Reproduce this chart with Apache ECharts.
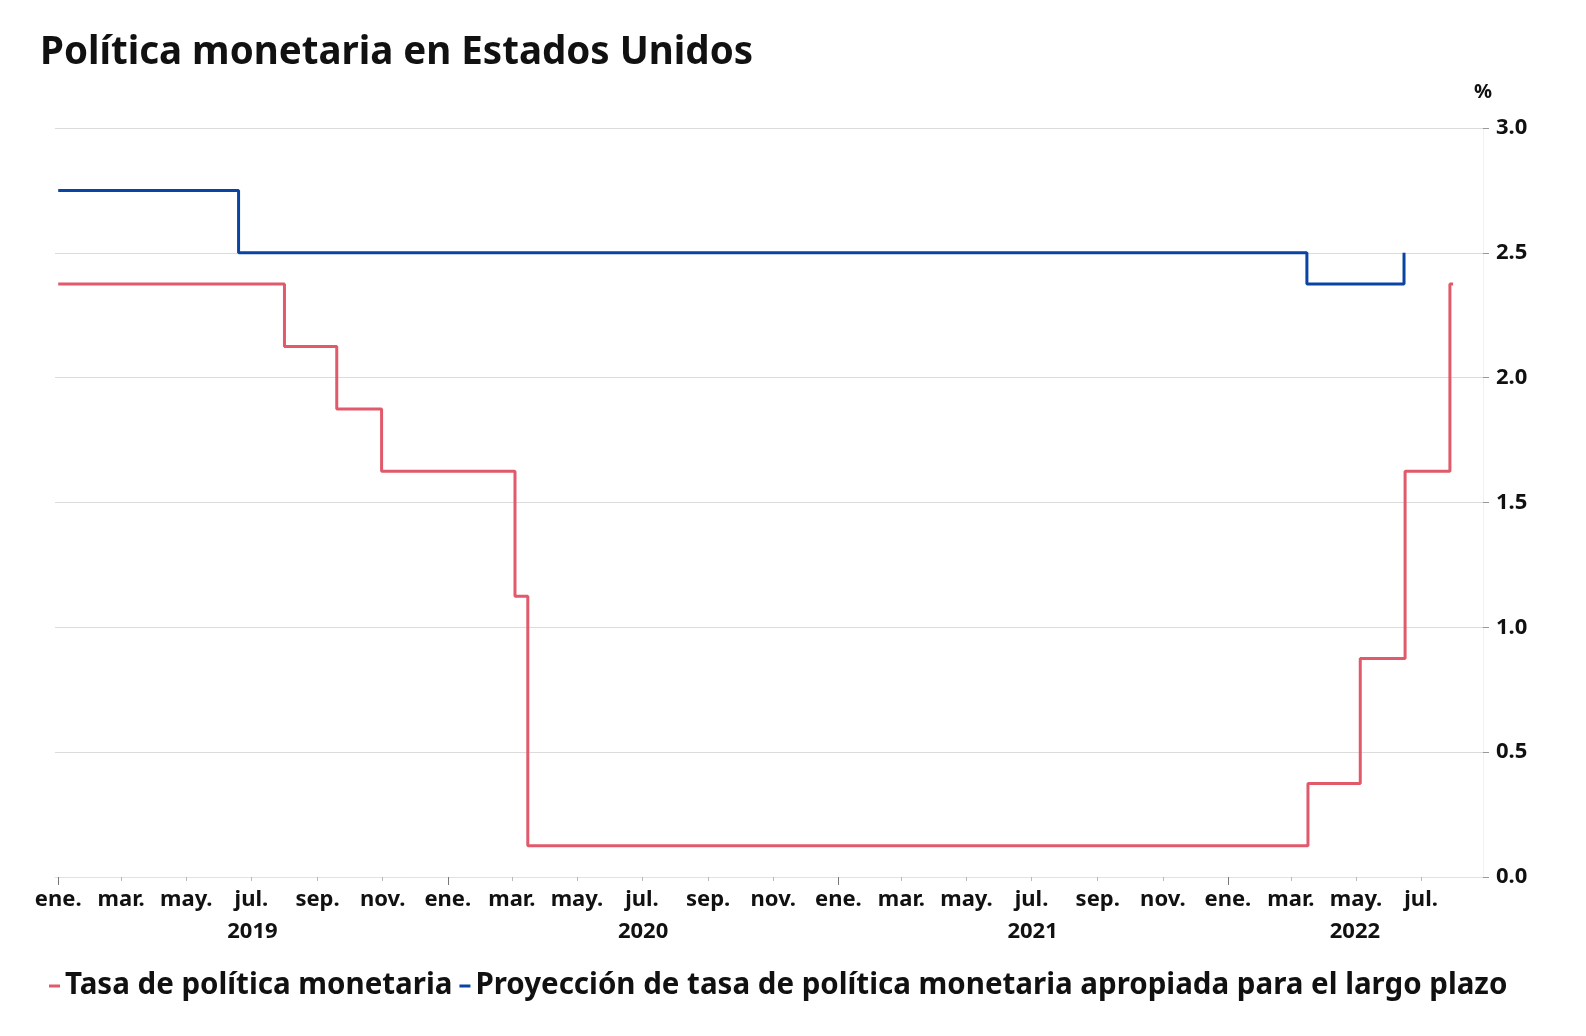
<!DOCTYPE html>
<html>
<head>
<meta charset="utf-8">
<script src="https://cdn.jsdelivr.net/npm/echarts@6/dist/echarts.min.js"></script>
<style>
html,body{margin:0;padding:0;background:#fff;}
#chart{width:1586px;height:1036px;}
</style>
</head>
<body>
<div id="chart"></div>
<script>
// ---- Data ----
const titleText = 'Política monetaria en Estados Unidos';
const seriesNames = ['Tasa de política monetaria', 'Proyección de tasa de política monetaria apropiada para el largo plazo'];

// Tasa de política monetaria (punto medio del rango), fechas de cambio
const rateDates  = ['2019-01-01','2019-08-01','2019-09-19','2019-10-31','2020-03-04','2020-03-16','2022-03-17','2022-05-05','2022-06-16','2022-07-28','2022-07-31'];
const rateValues = [2.375, 2.125, 1.875, 1.625, 1.125, 0.125, 0.375, 0.875, 1.625, 2.375, 2.375];

// Proyección de largo plazo
const projDates  = ['2019-01-01','2019-06-19','2022-03-16','2022-06-15'];
const projValues = [2.75, 2.5, 2.375, 2.5];

// Tick labels
const monthNames = ['ene.','feb.','mar.','abr.','may.','jun.','jul.','ago.','sep.','oct.','nov.','dic.'];
const tickDates = ['2019-01-01','2019-03-01','2019-05-01','2019-07-01','2019-09-01','2019-11-01',
                   '2020-01-01','2020-03-01','2020-05-01','2020-07-01','2020-09-01','2020-11-01',
                   '2021-01-01','2021-03-01','2021-05-01','2021-07-01','2021-09-01','2021-11-01',
                   '2022-01-01','2022-03-01','2022-05-01','2022-07-01'];
const yearTickDates = ['2019-01-01','2020-01-01','2021-01-01','2022-01-01'];
// year labels sit at the middle of each year's visible span
const yearLabelDates = ['2019-07-02','2020-07-02','2021-07-02','2022-04-30'];
const xMin = '2018-12-29';
const xMax = '2022-08-28';

// ---- helpers ----
function toTime(s){ const p = s.split('-').map(Number); return Date.UTC(p[0], p[1]-1, p[2]); }
function zip(d, v){ return d.map((x,i)=>[toTime(x), v[i]]); }

const RED = '#e05a6b';
const BLUE = '#0a44a3';
const FONT = 'Noto Sans';

const chart = echarts.init(document.getElementById('chart'), null, {renderer:'canvas'});
chart.setOption({
  backgroundColor:'#fff',
  animation:false,
  textStyle:{fontFamily:FONT},
  title:{
    text:titleText, left:35, top:29,
    textStyle:{fontFamily:FONT, fontWeight:'bold', fontSize:38.5, color:'#111'}
  },
  legend:{
    bottom:30, left:44,
    itemWidth:11, itemHeight:3, itemGap:7,
    icon:'rect',
    textStyle:{fontFamily:FONT, fontWeight:'bold', fontSize:29.5, color:'#111'},
    data:[{name:seriesNames[0], itemStyle:{color:RED}}, {name:seriesNames[1], itemStyle:{color:BLUE}}]
  },
  grid:{left:55, right:103, top:128, bottom:159, containLabel:false},
  xAxis:[{
    type:'value', min:toTime(xMin), max:toTime(xMax),
    axisLine:{show:true, lineStyle:{color:'#e2e2e2', width:1}},
    axisTick:{show:true, length:4, lineStyle:{color:'#b8b8b8'}, customValues:tickDates.map(toTime)},
    splitLine:{show:false},
    axisLabel:{
      customValues:tickDates.map(toTime),
      fontFamily:FONT, fontWeight:'bold', fontSize:22, color:'#111', margin:12,
      hideOverlap:false, showMinLabel:true, showMaxLabel:true,
      formatter:function(v){ return monthNames[new Date(v).getUTCMonth()]; }
    }
  },{
    type:'value', position:'bottom', min:toTime(xMin), max:toTime(xMax),
    axisLine:{show:false},
    axisTick:{show:true, length:8, lineStyle:{color:'#777'}, customValues:yearTickDates.map(toTime)},
    axisLabel:{
      customValues:yearLabelDates.map(toTime),
      fontFamily:FONT, fontWeight:'bold', fontSize:22, color:'#111', margin:44,
      hideOverlap:false, showMinLabel:true, showMaxLabel:true,
      formatter:function(v){ return String(new Date(v).getUTCFullYear()); }
    },
    splitLine:{show:false}
  }],
  yAxis:{
    type:'value', position:'right', min:0, max:3, interval:0.5,
    name:'%', nameLocation:'end', nameGap:26,
    nameTextStyle:{fontFamily:FONT, fontWeight:'bold', fontSize:20, color:'#111', align:'center'},
    axisLine:{show:true, lineStyle:{color:'#f2f2f2'}},
    axisTick:{show:true, length:6, lineStyle:{color:'#999'}},
    splitLine:{show:true, lineStyle:{color:'#dcdcdc', width:1}},
    axisLabel:{fontFamily:FONT, fontWeight:'bold', fontSize:22, color:'#111', margin:13,
      formatter:function(v){ return v.toFixed(1); }}
  },
  series:[{
    name:seriesNames[0], type:'line', step:'end', showSymbol:false, symbol:'none',
    data:zip(rateDates, rateValues),
    lineStyle:{color:RED, width:3}, itemStyle:{color:RED}, z:3
  },{
    name:seriesNames[1], type:'line', step:'end', showSymbol:false, symbol:'none',
    data:zip(projDates, projValues),
    lineStyle:{color:BLUE, width:3}, itemStyle:{color:BLUE}, z:4
  }]
});
</script>
</body>
</html>
